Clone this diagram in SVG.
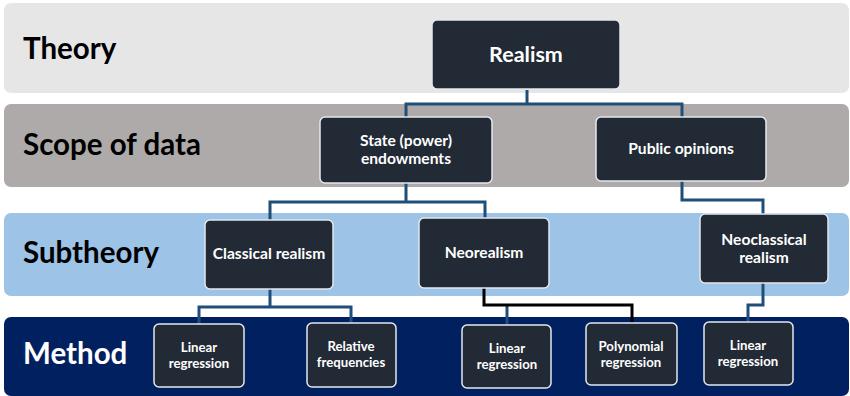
<svg xmlns="http://www.w3.org/2000/svg" width="850" height="396" viewBox="0 0 850 396">
<style>
.band-label{font-family:Lato,"Liberation Sans",sans-serif;font-weight:bold;font-size:29.5px}
.node rect{fill:#222A35;stroke:#E4E8EE;stroke-width:1.5}
.node text{font-family:Lato,"Liberation Sans",sans-serif;font-weight:bold;fill:#FFFFFF;text-anchor:middle}
.t16{font-size:15.6px}
.t14{font-size:13.2px}
.t23{font-size:21.5px}
.conn path{fill:none;stroke:#1F4E79;stroke-width:3}
.conn path.black{stroke:#000000}
</style>
<rect width="850" height="396" fill="#FFFFFF"/>
<g id="bands">
<rect x="4" y="3" width="845" height="90" rx="7" fill="#E7E6E6"/>
<rect x="4" y="104" width="845" height="83" rx="7" fill="#AEAAAA"/>
<rect x="4" y="213" width="845" height="83" rx="7" fill="#9DC3E6"/>
<rect x="4" y="317" width="845" height="79" rx="7" fill="#002060"/>
<text class="band-label" x="23" y="59" fill="#000000">Theory</text>
<text class="band-label" x="23" y="155" fill="#000000">Scope of data</text>
<text class="band-label" x="23" y="263" fill="#000000">Subtheory</text>
<text class="band-label" x="23" y="364" fill="#FFFFFF">Method</text>
</g>
<g id="connectors" class="conn">
<path d="M527 90 V104 M406 117 V104 H682 V117"/>
<path d="M406 183 V202 M270 220 V202 H485 V218"/>
<path d="M682 181 V200 H763 V214"/>
<path d="M270 289 V307 M199 324 V307 H351 V323"/>
<path d="M507 305 V325"/>
<path class="black" d="M484 288 V305 H632 V323"/>
<path d="M763 283 V305 H748 V322"/>
</g>
<g id="realism" class="node"><rect x="432" y="20" width="188" height="69" rx="5"/><text class="t23" x="526" y="62">Realism</text></g>
<g id="state" class="node"><rect x="320" y="117" width="172" height="66" rx="5"/><text class="t16" x="406" y="145.5">State (power)</text><text class="t16" x="406" y="164">endowments</text></g>
<g id="public" class="node"><rect x="596" y="117" width="170" height="64" rx="5"/><text class="t16" x="681" y="154">Public opinions</text></g>
<g id="classical" class="node"><rect x="205" y="220" width="128" height="69" rx="5"/><text class="t16" x="269" y="259">Classical realism</text></g>
<g id="neorealism" class="node"><rect x="419" y="218" width="130" height="70" rx="5"/><text class="t16" x="484" y="258">Neorealism</text></g>
<g id="neoclassical" class="node"><rect x="700" y="214" width="128" height="69" rx="5"/><text class="t16" x="764" y="244.5">Neoclassical</text><text class="t16" x="764" y="263">realism</text></g>
<g id="linreg1" class="node"><rect x="154" y="324" width="90" height="63" rx="5"/><text class="t14" x="199" y="351.5">Linear</text><text class="t14" x="199" y="368">regression</text></g>
<g id="relfreq" class="node"><rect x="307" y="323" width="89" height="64" rx="5"/><text class="t14" x="351" y="350.5">Relative</text><text class="t14" x="351" y="367">frequencies</text></g>
<g id="linreg2" class="node"><rect x="462" y="325" width="89" height="63" rx="5"/><text class="t14" x="507" y="352.5">Linear</text><text class="t14" x="507" y="369">regression</text></g>
<g id="polyreg" class="node"><rect x="586" y="323" width="91" height="62" rx="5"/><text class="t14" x="631" y="350.5">Polynomial</text><text class="t14" x="631" y="367">regression</text></g>
<g id="linreg3" class="node"><rect x="704" y="322" width="89" height="63" rx="5"/><text class="t14" x="748" y="349.5">Linear</text><text class="t14" x="748" y="366">regression</text></g>
</svg>
